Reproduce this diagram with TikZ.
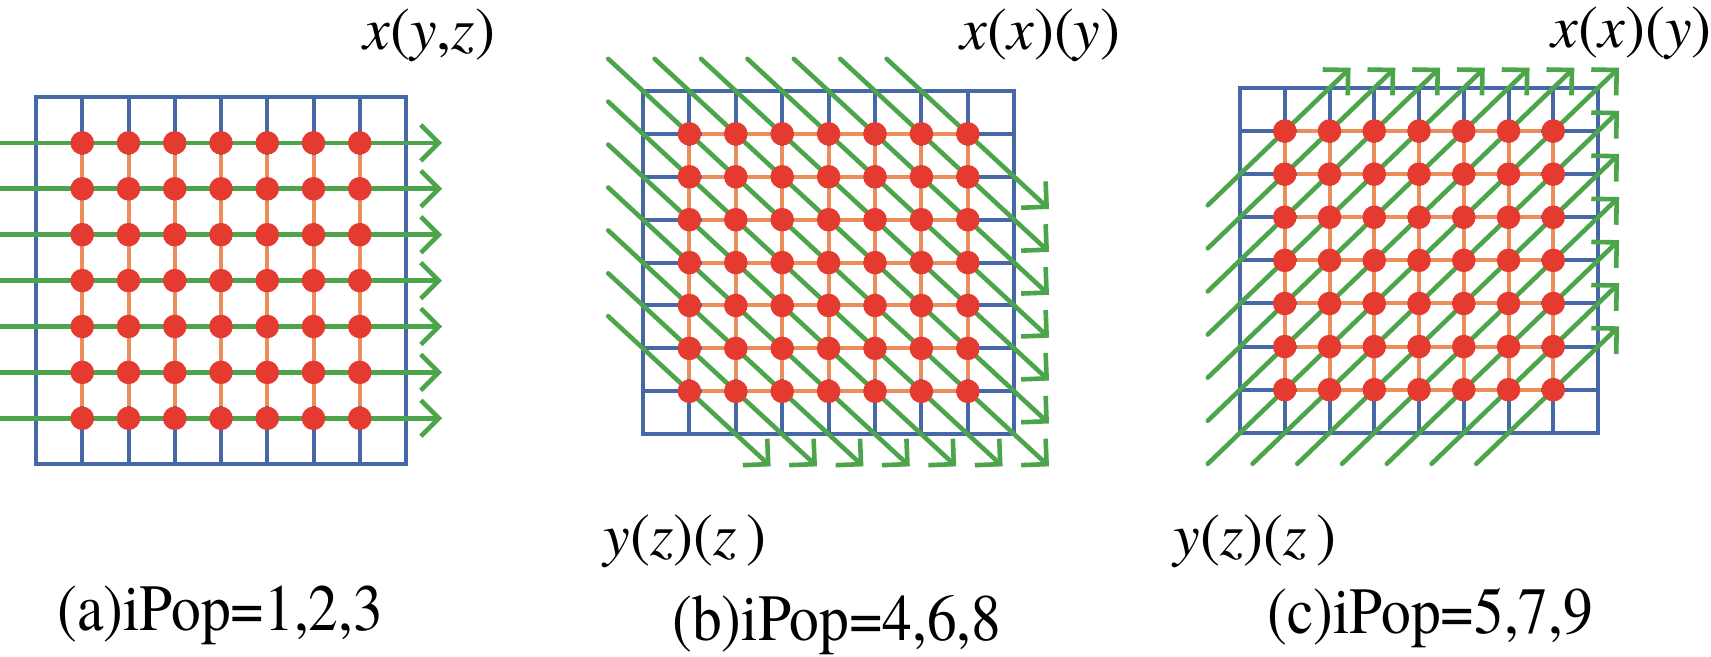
\documentclass[tikz,border=0pt]{standalone}
\usepackage{fontspec}
\setmainfont{texgyretermes}[Extension=.otf, UprightFont=*-regular,
  ItalicFont=*-italic]
\newfontfamily\capfont{texgyretermes}[Extension=.otf,
  UprightFont=*-regular, FakeStretch=0.9]
\usetikzlibrary{arrows.meta, calc, backgrounds}
\definecolor{gridblue}{RGB}{70, 104, 166}
\definecolor{linkorange}{RGB}{236, 141, 92}
\definecolor{dotred}{RGB}{228, 58, 47}
\definecolor{flowgreen}{RGB}{76, 165, 74}

\begin{document}
\begin{tikzpicture}[
    x=0.5pt, y=-0.5pt,
    grd/.style={draw=gridblue, line width=2pt},
    lnk/.style={draw=linkorange, line width=2pt},
    flw/.style={draw=flowgreen, line width=2.3pt, line cap=round,
                -{Straight Barb[length=9pt, width=18pt]}},
    nd/.style={circle, fill=dotred, minimum size=11.8pt,
               inner sep=0pt},
    lbl/.style={font=\fontsize{30}{36}\selectfont,
                inner sep=0pt, anchor=base west},
    captxt/.style={font=\capfont\fontsize{33}{40}\selectfont,
                inner sep=0pt, anchor=base west},
  ]
  \useasboundingbox (0,0) rectangle (1711,657);

  % (a) rows
  \begin{scope}[shift={(36,97)}, x=23.125pt, y=-22.95pt]
    \foreach \i in {1,...,7}
      \foreach \j in {1,...,7}
        \node[nd] (a-\i-\j) at (\i,\j) {};
    \begin{scope}[on background layer]
      \draw[grd] (0,0) rectangle (8,8);
      \foreach \k in {1,...,7} {
        \draw[grd] (\k,0) -- (\k,8);
        \draw[grd] (0,\k) -- (8,\k);
      }
      \foreach \k in {1,...,7} {
        \draw[lnk] (a-\k-1) -- (a-\k-7);
        \draw[lnk] (a-1-\k) -- (a-7-\k);
      }
      \foreach \j in {1,...,7}
        \draw[flw] ($(a-1-\j)+(-1.78,0)$) -- ($(a-7-\j)+(1.78,0)$);
    \end{scope}
  \end{scope}

  % (b) diagonals
  \begin{scope}[shift={(643,91)}, x=23.2pt, y=-21.45pt]
    \foreach \i in {1,...,7}
      \foreach \j in {1,...,7}
        \node[nd] (b-\i-\j) at (\i,\j) {};
    \begin{scope}[on background layer]
      \draw[grd] (0,0) rectangle (8,8);
      \foreach \k in {1,...,7} {
        \draw[grd] (\k,0) -- (\k,8);
        \draw[grd] (0,\k) -- (8,\k);
      }
      \foreach \k in {1,...,7} {
        \draw[lnk] (b-\k-1) -- (b-\k-7);
        \draw[lnk] (b-1-\k) -- (b-7-\k);
      }
      \foreach \k [evaluate=\k as \n using int(1+\k),
                   evaluate=\k as \m using int(7-\k)] in {0,...,6}
        \draw[flw] ($(b-1-\n)+(-1.75,-1.75)$) -- ($(b-\m-7)+(1.75,1.75)$);
      \foreach \k [evaluate=\k as \n using int(1+\k),
                   evaluate=\k as \m using int(7-\k)] in {1,...,6}
        \draw[flw] ($(b-\n-1)+(-1.75,-1.75)$) -- ($(b-7-\m)+(1.75,1.75)$);
    \end{scope}
  \end{scope}

  % (c) anti-diagonals
  \begin{scope}[shift={(1240,88)}, x=22.375pt, y=-21.55pt]
    \foreach \i in {1,...,7}
      \foreach \j in {1,...,7}
        \node[nd] (c-\i-\j) at (\i,\j) {};
    \begin{scope}[on background layer]
      \draw[grd] (0,0) rectangle (8,8);
      \foreach \k in {1,...,7} {
        \draw[grd] (\k,0) -- (\k,8);
        \draw[grd] (0,\k) -- (8,\k);
      }
      \foreach \k in {1,...,7} {
        \draw[lnk] (c-\k-1) -- (c-\k-7);
        \draw[lnk] (c-1-\k) -- (c-7-\k);
      }
      \foreach \n in {1,...,7}
        \draw[flw] ($(c-1-\n)+(-1.72,1.72)$) -- ($(c-\n-1)+(1.47,-1.47)$);
      \foreach \n in {2,...,7}
        \draw[flw] ($(c-\n-7)+(-1.72,1.72)$) -- ($(c-7-\n)+(1.47,-1.47)$);
    \end{scope}
  \end{scope}

  % labels
  \node[lbl] (xa) at (363,50) {\textit{x}(\textit{y},\textit{z})};
  \node[lbl] (xb) at (960,50) {\textit{x}(\textit{x})(\textit{y})};
  \node[lbl] (xc) at (1551,48) {\textit{x}(\textit{x})(\textit{y})};
  \node[lbl] (yb) at (603,555) {\textit{y}(\textit{z})(\textit{z}\,)};
  \node[lbl] (yc) at (1173,555) {\textit{y}(\textit{z})(\textit{z}\,)};
  \node[captxt] (ca) at (57,630) {(a)iPop=1,2,3};
  \node[captxt] (cb) at (672,640) {(b)iPop=4,6,8};
  \node[captxt] (cc) at (1267,633) {(c)iPop=5,7,9};
\end{tikzpicture}
\end{document}
